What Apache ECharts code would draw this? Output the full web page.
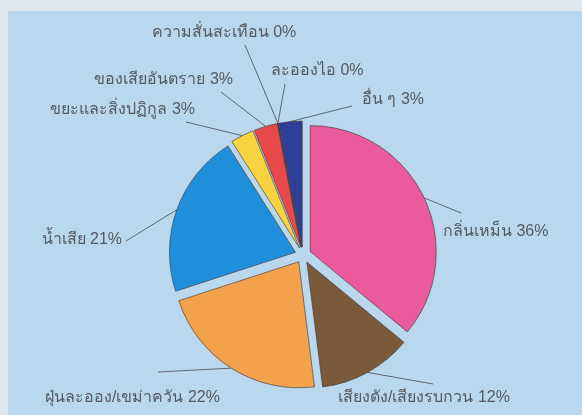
<!DOCTYPE html>
<html>
<head>
<meta charset="utf-8">
<script src="https://cdn.jsdelivr.net/npm/echarts@6/dist/echarts.min.js"></script>
<style>
  html, body { margin: 0; padding: 0; background: #dce7ef; }
  #chart { width: 582px; height: 415px; }
</style>
</head>
<body>
<div id="chart"></div>
<script>
// Complaint categories, clockwise from 12 o'clock
const categories = [
  'กลิ่นเหม็น',
  'เสียงดัง/เสียงรบกวน',
  'ฝุ่นละออง/เขม่าควัน',
  'น้ำเสีย',
  'ขยะและสิ่งปฏิกูล',
  'ของเสียอันตราย',
  'ความสั่นสะเทือน',
  'ละอองไอ',
  'อื่น ๆ'
];
// Share of complaints, percent
const shares = [36, 12, 22, 21, 3, 3, 0, 0, 3];
const sliceColors = ['#ea5a9c', '#7b5a3b', '#f3a24b', '#1f8edb', '#f6d33f', '#e9494b', '#9aa7b3', '#9aa7b3', '#2d3f96'];

// Where each callout sits: text anchor and the end of its leader line
const callouts = [
  { x: 443, y: 232, align: 'left',   end: [461, 213] },
  { x: 338, y: 398, align: 'left',   end: [433, 384] },
  { x: 45,  y: 398, align: 'left',   end: [158, 372] },
  { x: 122, y: 240, align: 'right',  end: [126, 241] },
  { x: 195, y: 110, align: 'right',  end: [186, 122] },
  { x: 233, y: 80,  align: 'right',  end: [221, 92] },
  { x: 224, y: 33,  align: 'center', end: [245, 45] },
  { x: 271, y: 71,  align: 'left',   end: [285, 84] },
  { x: 362, y: 100, align: 'left',   end: [352, 106] }
];

const PIE_CENTER = [303, 255];
const PIE_RADIUS = 126;
const EXPLODE = 8;

const chart = echarts.init(document.getElementById('chart'), null, { renderer: 'canvas' });

const edge = { borderColor: 'rgba(70,55,60,0.65)', borderWidth: 1 };
const labelText = {
  color: '#555a60',
  fontSize: 16,
  fontFamily: 'sans-serif',
  formatter: '{b} {c}%'
};

chart.setOption({
  backgroundColor: '#dce7ef',
  animation: false,
  graphic: [{
    type: 'rect',
    z: -10,
    silent: true,
    shape: { x: 8, y: 11, width: 574, height: 404 },
    style: { fill: '#b9d8ee' }
  }],
  series: [
    // Exploded slices
    {
      type: 'pie',
      center: PIE_CENTER,
      radius: PIE_RADIUS,
      startAngle: 90,
      clockwise: true,
      selectedMode: 'multiple',
      selectedOffset: EXPLODE,
      silent: true,
      itemStyle: edge,
      label: { show: false },
      labelLine: { show: false },
      select: { itemStyle: edge },
      emphasis: { disabled: true },
      data: categories.map((name, i) => ({
        name: name,
        value: shares[i],
        selected: true,
        itemStyle: { color: sliceColors[i] }
      }))
    },
    // Callout labels, anchored on the outer edge of the exploded slices
    {
      type: 'pie',
      center: PIE_CENTER,
      radius: PIE_RADIUS + EXPLODE,
      startAngle: 90,
      clockwise: true,
      silent: true,
      avoidLabelOverlap: false,
      itemStyle: { color: 'rgba(0,0,0,0)', borderWidth: 0 },
      label: Object.assign({ show: true, position: 'outside' }, labelText),
      labelLine: { show: true, length: 10, length2: 10, lineStyle: { color: '#5b6570', width: 1 } },
      emphasis: { disabled: true },
      labelLayout: function (params) {
        const c = callouts[params.dataIndex];
        const start = params.labelLinePoints ? params.labelLinePoints[0] : c.end;
        return {
          x: c.x,
          y: c.y,
          align: c.align,
          verticalAlign: 'middle',
          labelLinePoints: [start, c.end, c.end]
        };
      },
      data: categories.map((name, i) => ({ name: name, value: shares[i] }))
    }
  ]
});
</script>
</body>
</html>
